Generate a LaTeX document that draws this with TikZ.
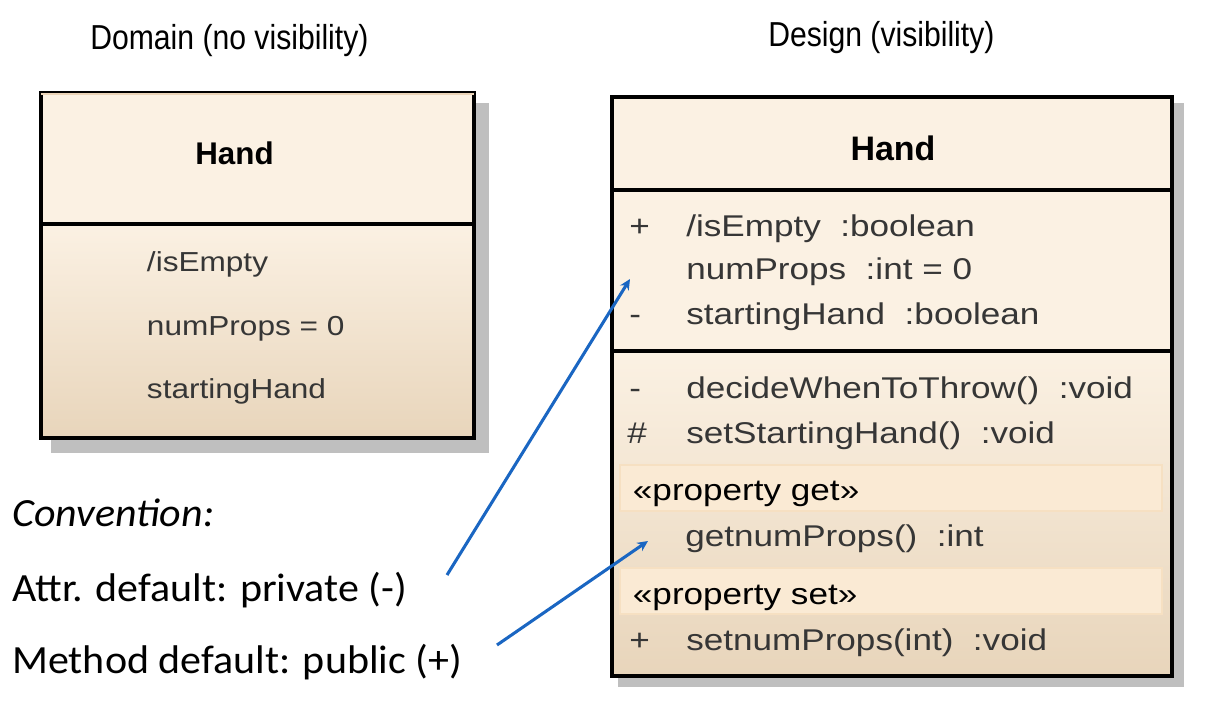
\documentclass[tikz,border=0pt]{standalone}
\usepackage{fontspec}
\setmainfont{Liberation Sans}
\newfontfamily\umlfont[FakeStretch=1.17]{Liberation Sans}
\newfontfamily\domfont[FakeStretch=1.15]{Liberation Sans}
\newfontfamily\titlefont[FakeStretch=0.87]{Liberation Sans}
\newfontfamily\notefont[FakeStretch=1.05]{Carlito}
\usetikzlibrary{positioning, shapes, arrows, arrows.meta}
\definecolor{cream}{HTML}{FBF1E3}
\definecolor{tan}{HTML}{E8D5BB}
\definecolor{toptan}{HTML}{EBD4B8}
\definecolor{bandfill}{HTML}{FAEAD4}
\definecolor{bandline}{HTML}{F6E0C2}
\definecolor{shadowgray}{HTML}{BFBFBF}
\definecolor{umltext}{HTML}{363636}
\definecolor{pointerblue}{HTML}{1A66C2}
\tikzstyle{compart} = [rectangle, draw=black, line width=3pt, inner sep=0pt, anchor=north west]
\tikzstyle{plain}   = [compart, fill=cream]
\tikzstyle{graded}  = [compart, top color=cream, bottom color=tan]
\tikzstyle{band}    = [rectangle, fill=bandfill, draw=bandline, line width=1.5pt, inner sep=0pt, anchor=north west, minimum width=406.7pt, minimum height=34.5pt]
\tikzstyle{member}  = [anchor=base west, inner sep=0pt, text=umltext, font=\umlfont\fontsize{22.5}{27}\selectfont]
\tikzstyle{dommember} = [anchor=base west, inner sep=0pt, text=umltext, font=\domfont\fontsize{20.6}{25}\selectfont]
\tikzstyle{stereo}  = [anchor=base west, inner sep=0pt, font=\umlfont\fontsize{22.5}{27}\selectfont]
\tikzstyle{title}   = [anchor=base west, inner sep=0pt, font=\titlefont\fontsize{26}{30}\selectfont]
\tikzstyle{note}    = [anchor=base west, inner sep=0pt, font=\notefont\fontsize{30}{35}\selectfont]
\tikzstyle{pointer} = [-{Stealth[length=8pt, width=7.5pt]}, line width=2.3pt, draw=pointerblue, fill=pointerblue]

\begin{document}
\begin{tikzpicture}[x=0.75pt, y=-0.75pt]
    \useasboundingbox (0,0) rectangle (1205,712);

    % titles
    \node [title] (domtitle) at (90,50) {Domain (no visibility)};
    \node [title] (destitle) at (768,46.7) {Design (visibility)};

    % domain class
    \fill [shadowgray] (51,103) rectangle (489,453);
    \node [plain, minimum width=324.3pt, minimum height=98.25pt] (domhead) at (39.3,90.7) {};
    \node [graded, minimum width=324.3pt, minimum height=160.5pt] (domattr) at (39.3,221.7) {};
    \draw [toptan, line width=2pt] ([xshift=1.5pt, yshift=-2.5pt]domhead.north west) -- ([xshift=-1.5pt, yshift=-2.5pt]domhead.north east);
    \node [anchor=base, inner sep=0pt, font=\fontsize{23.5}{28}\selectfont\bfseries] (domname) at (234.5,165) {Hand};
    \node [dommember] (dom1) at (146.7,271.7) {/isEmpty};
    \node [dommember] (dom2) at (146.7,336) {numProps = 0};
    \node [dommember] (dom3) at (146.7,398.3) {startingHand};

    % design class
    \fill [shadowgray] (618,102.7) rectangle (1183.7,686.7);
    \node [plain, minimum width=419.8pt, minimum height=69.75pt] (deshead) at (610,95.5) {};
    \node [plain, minimum width=419.8pt, minimum height=120.4pt] (desattr) at (610,188.5) {};
    \node [graded, minimum width=419.8pt, minimum height=243.75pt] (desops) at (610,349) {};
    \node [anchor=base, inner sep=0pt, font=\fontsize{25.5}{30}\selectfont\bfseries] (desname) at (893,161) {Hand};

    % attributes
    \node [member] (vis1) at (629,236.7) {+};
    \node [member] (attr1) at (686,236.7) {/isEmpty~~:boolean};
    \node [member] (attr2) at (686,280) {numProps~~:int = 0};
    \node [member] (vis3) at (629,325) {-};
    \node [member] (attr3) at (686,325) {startingHand~~:boolean};

    % operations
    \node [member] (vis4) at (629,398.3) {-};
    \node [member] (op1) at (686,398.3) {decideWhenToThrow()~~:void};
    \node [member] (vis5) at (627,443.3) {\#};
    \node [member] (op2) at (686,443.3) {setStartingHand()~~:void};
    \node [band] (getband) at (618.5,464) {};
    \node [stereo] (getlabel) at (632.7,500) {«property get»};
    \node [member] (op3) at (685,546.7) {getnumProps()~~:int};
    \node [band] (setband) at (618.5,567) {};
    \node [stereo] (setlabel) at (632.7,604) {«property set»};
    \node [member] (vis6) at (629,650) {+};
    \node [member] (op4) at (686,650) {setnumProps(int)~~:void};

    % convention notes
    \node [note, font=\notefont\fontsize{30}{35}\selectfont\itshape] (conv) at (12,526.7) {Convention:};
    \node [note] (attrnote) at (12,601.7) {Attr. default: private (-)};
    \node [note] (opnote) at (12,673.3) {Method default: public (+)};

    % pointers
    \coordinate (attrfrom) at (447,575);
    \coordinate (attrto) at (630,279);
    \coordinate (opfrom) at (497,645);
    \coordinate (opto) at (648,541);
    \draw [pointer] (attrfrom) -- (attrto);
    \draw [pointer] (opfrom) -- (opto);
\end{tikzpicture}
\end{document}
